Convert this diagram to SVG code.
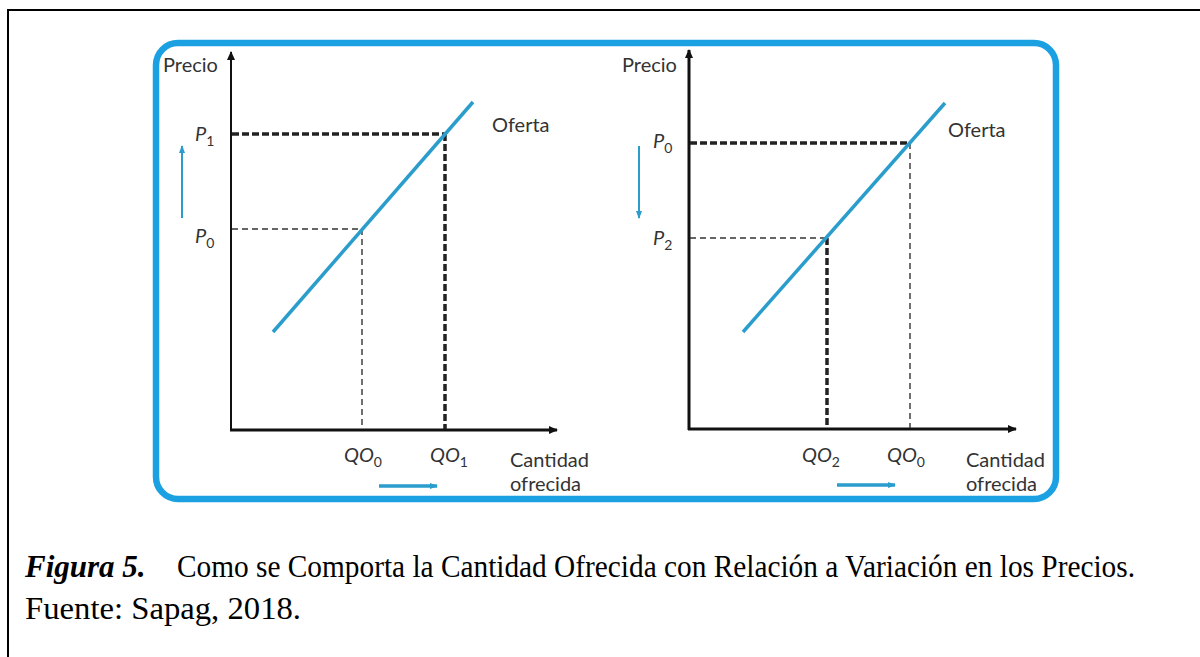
<svg xmlns="http://www.w3.org/2000/svg" width="1200" height="657" viewBox="0 0 1200 657">
<defs>
<style>
.lbl{font-family:Lato,"Open Sans","Liberation Sans",sans-serif;font-size:20px;fill:#333}
.it{font-style:italic}
.sub{font-size:14px;font-style:normal}
.cap{font-family:"Liberation Serif","Times New Roman",serif;font-size:31px;fill:#000}
.axis{stroke:#111;fill:none}
.thick{stroke:#222;stroke-width:3.5;stroke-dasharray:7 3;fill:none}
.thin{stroke:#333;stroke-width:1.4;stroke-dasharray:6 4;fill:none}
.supply{stroke:#2a9dcc;stroke-width:3.5;fill:none}
.move{stroke:#2a9dcc;fill:none}
</style>
<marker id="ah" markerWidth="10" markerHeight="10" refX="8" refY="5" orient="auto" markerUnits="userSpaceOnUse">
<path d="M0,1 L9,5 L0,9 Z" fill="#111"/>
</marker>
<marker id="bh" markerWidth="10" markerHeight="10" refX="7" refY="5" orient="auto" markerUnits="userSpaceOnUse">
<path d="M0,2 L8,5 L0,8 Z" fill="#2a9dcc"/>
</marker>
</defs>
<rect width="1200" height="657" fill="#fff"/>
<path d="M8,660 L8,10 L1204,10" fill="none" stroke="#000" stroke-width="2"/>
<rect id="panel" x="156" y="43" width="900" height="456" rx="22" ry="22" fill="none" stroke="#1ba1e2" stroke-width="6.5"/>

<g id="left-chart">
<g id="left-axes">
<line class="axis" x1="231" y1="430" x2="231" y2="52" stroke-width="2" marker-end="url(#ah)"/>
<line class="axis" x1="230" y1="430" x2="557" y2="430" stroke-width="3" marker-end="url(#ah)"/>
</g>
<g id="left-guides">
<line class="thick" x1="232" y1="134" x2="445" y2="134"/>
<line class="thick" x1="445" y1="134" x2="445" y2="429"/>
<line class="thin" x1="232" y1="229" x2="362" y2="229"/>
<line class="thin" x1="362" y1="229" x2="362" y2="429"/>
</g>
<line id="left-supply" class="supply" x1="273" y1="332" x2="473" y2="102"/>
<line id="left-up-arrow" class="move" x1="182" y1="218" x2="182" y2="146" stroke-width="2" marker-end="url(#bh)"/>
<line id="left-right-arrow" class="move" x1="379" y1="486" x2="437" y2="486" stroke-width="3.5" marker-end="url(#bh)"/>
<text class="lbl" x="163" y="72">Precio</text>
<text class="lbl" x="492" y="132">Oferta</text>
<text class="lbl it" x="195" y="141">P<tspan class="sub" dy="5">1</tspan></text>
<text class="lbl it" x="195" y="243">P<tspan class="sub" dy="5">0</tspan></text>
<text class="lbl it" x="344" y="462">QO<tspan class="sub" dy="5">0</tspan></text>
<text class="lbl it" x="430" y="462">QO<tspan class="sub" dy="5">1</tspan></text>
<text class="lbl" x="510" y="467">Cantidad</text>
<text class="lbl" x="510" y="491">ofrecida</text>
</g>

<g id="right-chart">
<g id="right-axes">
<line class="axis" x1="689" y1="430" x2="689" y2="50" stroke-width="3" marker-end="url(#ah)"/>
<line class="axis" x1="688" y1="429" x2="1016" y2="429" stroke-width="3" marker-end="url(#ah)"/>
</g>
<g id="right-guides">
<line class="thick" x1="690" y1="143" x2="910" y2="143"/>
<line class="thin" x1="910" y1="143" x2="910" y2="428"/>
<line class="thin" x1="690" y1="238" x2="827" y2="238"/>
<line class="thick" x1="827" y1="238" x2="827" y2="428"/>
</g>
<line id="right-supply" class="supply" x1="743" y1="332" x2="945" y2="103"/>
<line id="right-down-arrow" class="move" x1="639" y1="146" x2="639" y2="218" stroke-width="2" marker-end="url(#bh)"/>
<line id="right-right-arrow" class="move" x1="837" y1="485" x2="895" y2="485" stroke-width="3.5" marker-end="url(#bh)"/>
<text class="lbl" x="622" y="72">Precio</text>
<text class="lbl" x="948" y="137">Oferta</text>
<text class="lbl it" x="653" y="148">P<tspan class="sub" dy="5">0</tspan></text>
<text class="lbl it" x="653" y="245">P<tspan class="sub" dy="5">2</tspan></text>
<text class="lbl it" x="802" y="462">QO<tspan class="sub" dy="5">2</tspan></text>
<text class="lbl it" x="887" y="462">QO<tspan class="sub" dy="5">0</tspan></text>
<text class="lbl" x="966" y="467">Cantidad</text>
<text class="lbl" x="966" y="491">ofrecida</text>
</g>

<g id="caption">
<text class="cap" x="25" y="577" font-weight="bold" font-style="italic">Figura 5.</text>
<text class="cap" x="177" y="577" textLength="958" lengthAdjust="spacingAndGlyphs">Como se Comporta la Cantidad Ofrecida con Relación a Variación en los Precios.</text>
<text class="cap" x="25" y="619" textLength="276" lengthAdjust="spacingAndGlyphs">Fuente: Sapag, 2018.</text>
</g>
</svg>
